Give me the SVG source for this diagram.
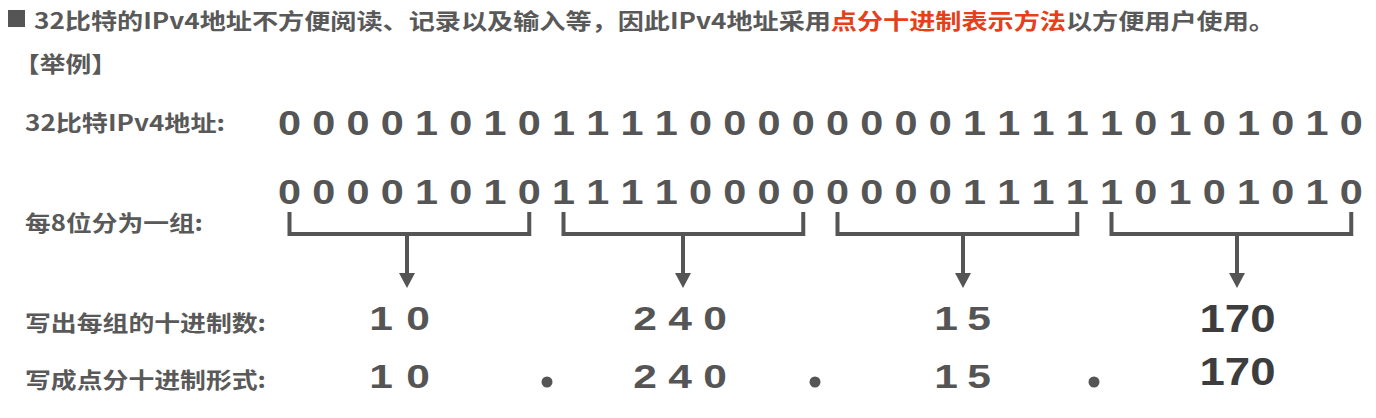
<svg xmlns="http://www.w3.org/2000/svg" width="1376" height="418" viewBox="0 0 1376 418">
<style>
.cjk{font-family:"Noto Sans CJK SC","Noto Sans",sans-serif;font-weight:bold;fill:#595959;font-size:22px}
.red{fill:#e5401a}
.dig{font-family:"Liberation Sans",Arial,sans-serif;font-weight:bold;fill:#555;text-anchor:middle}
.dark{fill:#3d3d3d}
.bracket{fill:none;stroke:#555;stroke-width:4}
.conn{fill:none;stroke:#555;stroke-width:4}
</style>
<defs>
<marker id="arr" markerUnits="userSpaceOnUse" markerWidth="16" markerHeight="18" refX="0" refY="8" orient="auto">
<path d="M0,0 L15,8 L0,16 z" fill="#555"/>
</marker>
</defs>
<rect width="1376" height="418" fill="#fff"/>
<g id="header">
<rect x="8" y="10" width="17" height="17" fill="#555"/>
<text class="cjk" x="34" y="29" textLength="1241" lengthAdjust="spacingAndGlyphs">32比特的IPv4地址不方便阅读、记录以及输入等，因此IPv4地址采用<tspan class="red">点分十进制表示方法</tspan>以方便用户使用。</text>
<text class="cjk" x="14" y="72" textLength="103" lengthAdjust="spacingAndGlyphs">【举例】</text>
</g>
<g id="labels">
<text class="cjk" x="25" y="131" textLength="200" lengthAdjust="spacingAndGlyphs">32比特IPv4地址:</text>
<text class="cjk" x="25" y="231" textLength="178" lengthAdjust="spacingAndGlyphs">每8位分为一组:</text>
<text class="cjk" x="25" y="331" textLength="241" lengthAdjust="spacingAndGlyphs">写出每组的十进制数:</text>
<text class="cjk" x="25" y="388" textLength="241" lengthAdjust="spacingAndGlyphs">写成点分十进制形式:</text>
</g>
<g id="bits-32" transform="scale(1.2 1)">
<text class="dig" font-size="34.5" y="135" x="241.25 269.79 298.33 326.88 355.42 383.96 412.5 441.04 469.58 498.13 526.67 555.21 583.75 612.29 640.83 669.38 697.92 726.46 755 783.54 812.08 840.63 869.17 897.71 926.25 954.79 983.33 1011.88 1040.42 1068.96 1097.5 1126.04">00001010111100000000111110101010</text>
</g>
<g id="bits-grouped" transform="scale(1.2 1)">
<text class="dig" font-size="34.5" y="204" x="241.25 269.79 298.33 326.88 355.42 383.96 412.5 441.04 469.58 498.13 526.67 555.21 583.75 612.29 640.83 669.38 697.92 726.46 755 783.54 812.08 840.63 869.17 897.71 926.25 954.79 983.33 1011.88 1040.42 1068.96 1097.5 1126.04">00001010111100000000111110101010</text>
</g>
<g id="group1"><path class="bracket" d="M289.5,212 V234 H529.25 V212"/></g>
<g id="group2"><path class="bracket" d="M563.5,212 V234 H803.25 V212"/></g>
<g id="group3"><path class="bracket" d="M837.5,212 V234 H1077.25 V212"/></g>
<g id="group4"><path class="bracket" d="M1111.5,212 V234 H1351.25 V212"/></g>
<g id="connectors">
<path class="conn" d="M407,234 V273" marker-end="url(#arr)"/>
<path class="conn" d="M683,234 V273" marker-end="url(#arr)"/>
<path class="conn" d="M963,234 V273" marker-end="url(#arr)"/>
<path class="conn" d="M1237,234 V273" marker-end="url(#arr)"/>
</g>
<g id="dec1" transform="scale(1.25 1)">
<text class="dig" font-size="34" y="330" x="304.8 334.4">10</text>
</g>
<g id="dec2" transform="scale(1.25 1)">
<text class="dig" font-size="34" y="330" x="516 544 572">240</text>
</g>
<g id="dec3" transform="scale(1.25 1)">
<text class="dig" font-size="34" y="330" x="756.8 783.2">15</text>
</g>
<g id="dec4" transform="scale(1.2 1)">
<text class="dig dark" font-size="38" y="332" x="1031.25">170</text>
</g>
<g id="dotted">
<g transform="scale(1.25 1)">
<text class="dig" font-size="34" y="388" x="304.8 334.4">10</text>
<text class="dig" font-size="34" y="388" x="516 544 572">240</text>
<text class="dig" font-size="34" y="388" x="756.8 783.2">15</text>
</g>
<g transform="scale(1.2 1)">
<text class="dig dark" font-size="38" y="385" x="1031.25">170</text>
</g>
<circle cx="547" cy="382" r="5.5" fill="#555"/>
<circle cx="815" cy="382" r="5.5" fill="#555"/>
<circle cx="1094" cy="382" r="5.5" fill="#555"/>
</g>
</svg>
